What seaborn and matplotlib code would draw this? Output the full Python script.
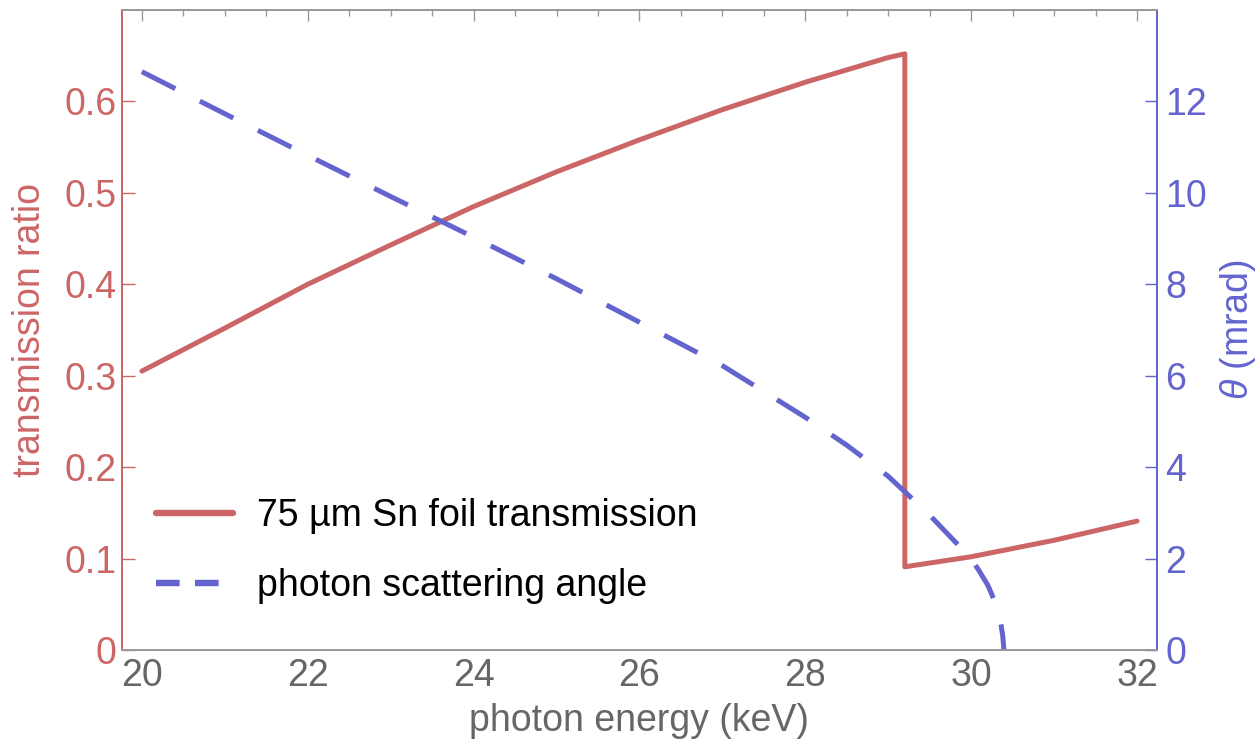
import matplotlib
matplotlib.use("Agg")
import matplotlib.pyplot as plt
from matplotlib.lines import Line2D
import seaborn as sns
import pandas as pd
from matplotlib.ticker import MultipleLocator

sns.set_theme(style="white")
plt.rcParams['font.family'] = ['Liberation Sans', 'DejaVu Sans']
plt.rcParams['mathtext.fontset'] = 'custom'
plt.rcParams['mathtext.it'] = 'Liberation Sans:italic'
plt.rcParams['mathtext.rm'] = 'Liberation Sans'

red = '#CC6666'
blue = '#6464CF'
gray = '#666666'
spine_gray = '#9A9A9A'
fs = 27

# tin foil transmission (K edge at 29.2 keV)
energy_sn = [20, 21, 22, 23, 24, 25, 26, 27, 28, 29, 29.2, 29.2, 30, 31, 32]
trans_sn = [0.305, 0.352, 0.400, 0.443, 0.485, 0.523, 0.558, 0.591, 0.621, 0.648, 0.652,
            0.091, 0.102, 0.120, 0.141]

# photon scattering angle
energy_theta = [20, 21, 22, 23, 24, 25, 26, 27, 28, 28.5, 29, 29.5, 30, 30.1, 30.2,
                30.3, 30.33, 30.36, 30.38, 30.395]
theta_mrad = [12.65, 11.73, 10.82, 9.92, 9.03, 8.12, 7.17, 6.22, 5.09, 4.48, 3.80, 2.95, 2.00,
              1.72, 1.42, 1.00, 0.81, 0.55, 0.32, 0.0]

labels = ['75 µm Sn foil transmission', 'photon scattering angle']

sn_df = pd.DataFrame({'energy': energy_sn, 'trans': trans_sn})
theta_df = pd.DataFrame({'energy': energy_theta, 'theta': theta_mrad})

fig = plt.figure(figsize=(12.6, 7.45), dpi=100)
ax = fig.add_axes([0.0968, 0.1275, 0.8214, 0.8591])
ax2 = ax.twinx()

sns.lineplot(data=sn_df, x='energy', y='trans', ax=ax, color=red, lw=3.6,
             estimator=None, sort=False, legend=False)
sns.lineplot(data=theta_df, x='energy', y='theta', ax=ax2, color=blue, lw=3.6,
             estimator=None, sort=False, legend=False)
ax2.lines[0].set_linestyle((0, (7.5, 5.5)))
ax2.lines[0].set_dash_capstyle('butt')

ax.set_xlim(19.76, 32.24)
ax.set_ylim(0, 0.7)
ax2.set_ylim(0, 14)

ax.xaxis.set_major_locator(MultipleLocator(2))
ax.xaxis.set_minor_locator(MultipleLocator(0.5))
ax.set_yticks([0, 0.1, 0.2, 0.3, 0.4, 0.5, 0.6])
ax.set_yticklabels(['0', '0.1', '0.2', '0.3', '0.4', '0.5', '0.6'])
ax2.set_yticks([0, 2, 4, 6, 8, 10, 12])

ax.tick_params(axis='x', which='major', direction='in', length=8, width=1, color=spine_gray,
               labelcolor=gray, labelsize=fs, pad=6, top=True)
ax.tick_params(axis='x', which='minor', direction='in', length=4, width=1, color=spine_gray, top=True)
ax.tick_params(axis='y', which='major', direction='in', length=9, width=1, color=red,
               labelcolor=red, labelsize=fs, pad=4)
ax2.tick_params(axis='y', which='major', direction='in', length=9, width=1, color=blue,
                labelcolor=blue, labelsize=fs, pad=6)

for a in (ax, ax2):
    for s in a.spines.values():
        s.set_visible(True)
        s.set_linewidth(1.3)
    a.spines['top'].set_color(spine_gray)
    a.spines['bottom'].set_color(spine_gray)
    a.spines['left'].set_color(red)
    a.spines['right'].set_color(blue)
    a.grid(False)

ax.set_xlabel('photon energy (keV)', fontsize=fs, color=gray, labelpad=6)
ax.set_ylabel('transmission ratio', fontsize=fs, color=red, labelpad=12)
ax2.set_ylabel(r'$\theta$ (mrad)', fontsize=fs, color=blue, labelpad=8)

# legend keys: the dashed key uses shorter dashes, like the original
handles = [Line2D([], [], color=red, lw=4.6),
           Line2D([], [], color=blue, lw=4.6, linestyle=(0, (3.7, 2.4)), dash_capstyle='butt')]
leg = ax2.legend(handles, labels, loc='upper left',
                 bbox_to_anchor=(0.0, 0.29), frameon=False, fontsize=fs,
                 handlelength=2.05, handletextpad=0.64, labelspacing=0.9)
for t in leg.get_texts():
    t.set_color('black')

fig.savefig('out.png', dpi=100)
